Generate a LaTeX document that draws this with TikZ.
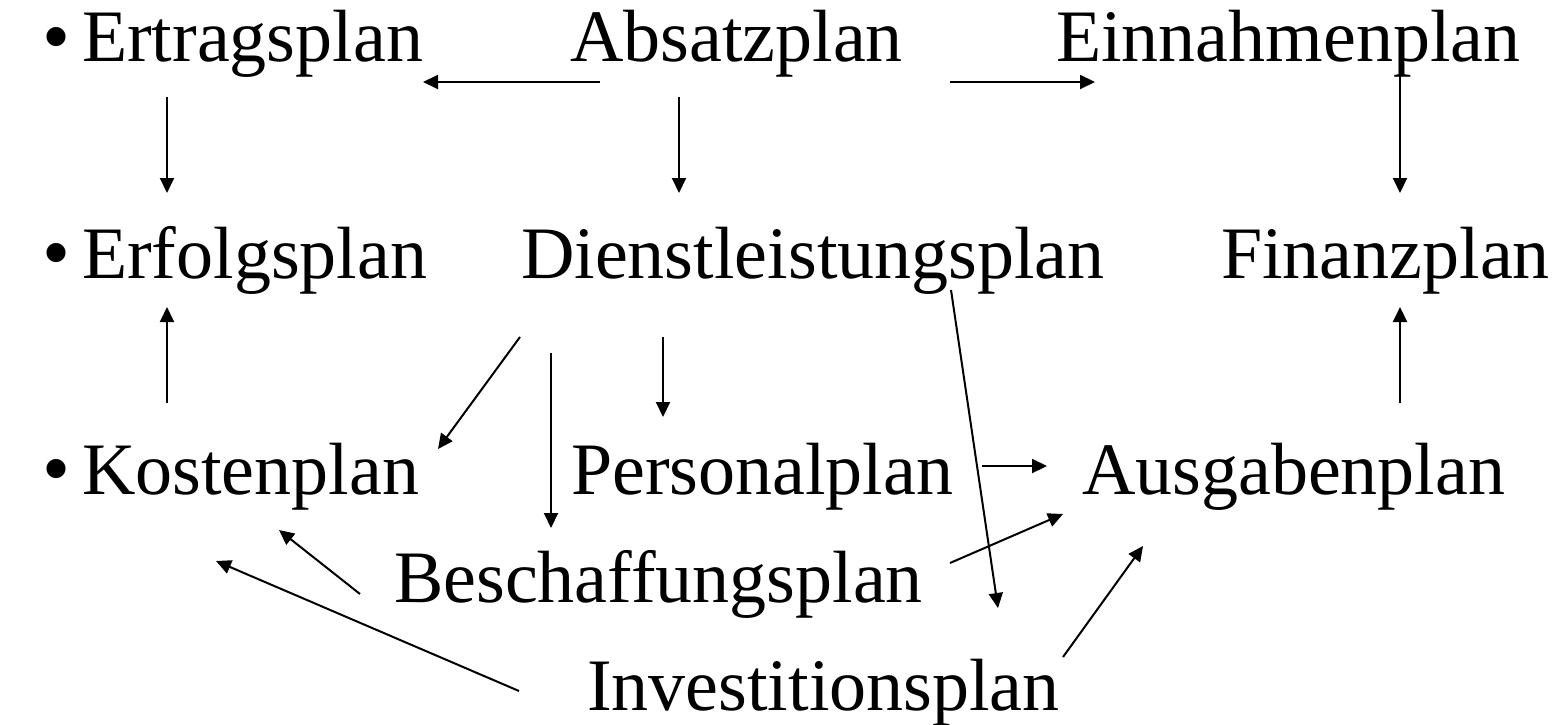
\documentclass[tikz,border=0pt]{standalone}
\usepackage{fontspec}
\setmainfont{Liberation Serif}
\usetikzlibrary{arrows.meta}
\tikzset{
  plan/.style={anchor=base west, inner sep=0pt, outer sep=0pt, font=\fontsize{74}{80}\selectfont},
  bul/.style={anchor=base west, inner sep=0pt, outer sep=0pt, font=\fontsize{80}{80}\selectfont},
  link/.style={line width=2pt, -{Triangle[length=15pt,width=14pt]}}
}
\begin{document}
\begin{tikzpicture}[x=1pt,y=1pt]
\useasboundingbox (0,0) rectangle (1568,-725);
% bullets
\node[bul] (b1) at (42,-63.5) {•};
\node[bul] (b2) at (42,-279.5) {•};
\node[bul] (b3) at (42,-495.5) {•};
% plans
\node[plan] (ert) at (82,-62) {Ertragsplan};
\node[plan] (abs) at (570,-62) {Absatzplan};
\node[plan] (ein) at (1056,-62) {Einnahmenplan};
\node[plan] (erf) at (82,-278) {Erfolgsplan};
\node[plan] (dl) at (521,-278) {Dienstleistungsplan};
\node[plan] (fin) at (1221,-278) {Finanzplan};
\node[plan] (kos) at (82,-494) {Kostenplan};
\node[plan] (per) at (571,-494) {Personalplan};
\node[plan] (aus) at (1082,-494) {Ausgabenplan};
\node[plan] (bes) at (394,-602) {Beschaffungsplan};
\node[plan] (inv) at (587,-710) {Investitionsplan};
% connectors
\draw[link] ([shift={(30,-20)}]abs.base west) -- ([shift={(341,-20)}]ert.base west);
\draw[link] ([shift={(380,-20)}]abs.base west) -- ([shift={(39,-20)}]ein.base west);
\draw[link] ([shift={(85,-35)}]ert.base west) -- ([shift={(85,85)}]erf.base west);
\draw[link] ([shift={(109,-35)}]abs.base west) -- ([shift={(158,85)}]dl.base west);
\draw[link] ([shift={(344,-10)}]ein.base west) -- ([shift={(179,85)}]fin.base west);
\draw[link] ([shift={(85,91)}]kos.base west) -- ([shift={(85,-29)}]erf.base west);
\draw[link] ([shift={(318,91)}]aus.base west) -- ([shift={(179,-29)}]fin.base west);
\draw[link] ([shift={(-1,-59)}]dl.base west) -- ([shift={(356,45)}]kos.base west);
\draw[link] ([shift={(30,-75)}]dl.base west) -- ([shift={(157,74)}]bes.base west);
\draw[link] ([shift={(142,-59)}]dl.base west) -- ([shift={(92,77)}]per.base west);
\draw[link] ([shift={(430,-12)}]dl.base west) -- ([shift={(411,102)}]inv.base west);
\draw[link] ([shift={(411,28)}]per.base west) -- ([shift={(-35,28)}]aus.base west);
\draw[link] ([shift={(556,39)}]bes.base west) -- ([shift={(-19,-20)}]aus.base west);
\draw[link] ([shift={(476,53)}]inv.base west) -- ([shift={(61,-52)}]aus.base west);
\draw[link] ([shift={(-34,8)}]bes.base west) -- ([shift={(197,-36)}]kos.base west);
\draw[link] ([shift={(-68,19)}]inv.base west) -- ([shift={(134,-67)}]kos.base west);
\end{tikzpicture}
\end{document}
